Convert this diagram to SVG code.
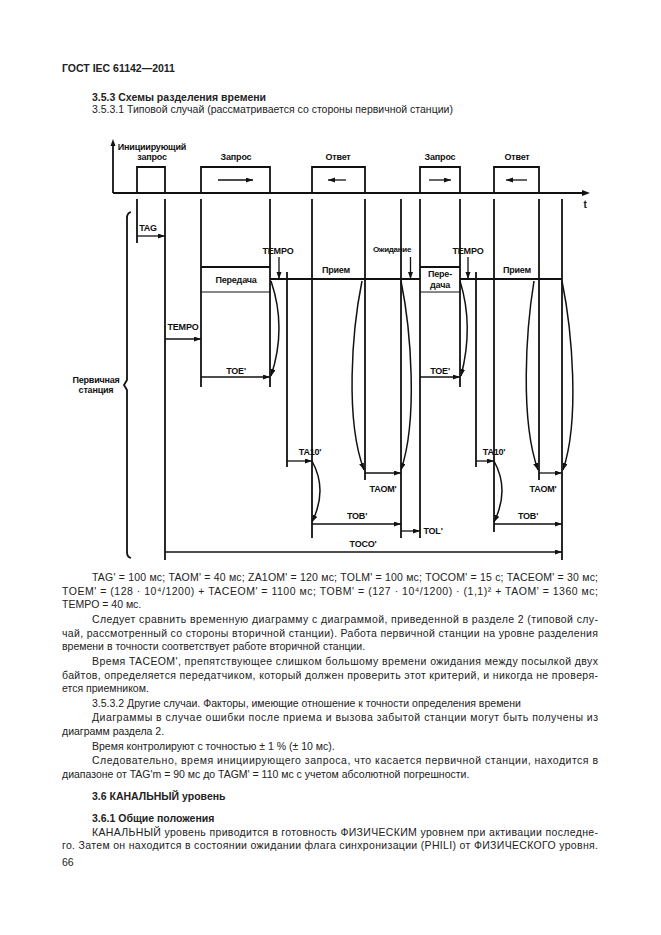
<svg xmlns="http://www.w3.org/2000/svg" width="661" height="935" viewBox="0 0 661 935">
<defs>
<marker id="ah" markerUnits="userSpaceOnUse" markerWidth="8" markerHeight="6" refX="7" refY="2.5" orient="auto"><path d="M0,0 L7,2.5 L0,5 z" fill="#111"/></marker>
<style>
.ln{stroke:#111;stroke-width:1.8;fill:none}
.th{stroke:#111;stroke-width:1;fill:none}
.ar{stroke:#111;stroke-width:1.3;fill:none;marker-end:url(#ah)}
.cv{stroke:#111;stroke-width:1.5;fill:none;marker-end:url(#ah)}
.lb{font-family:"Liberation Sans",Arial,sans-serif;font-size:9px;font-weight:bold;fill:#111;letter-spacing:-0.2px;text-anchor:middle}
.tx{font-family:"Liberation Sans",Arial,sans-serif;font-size:10.5px;fill:#222}
.bd{font-family:"Liberation Sans",Arial,sans-serif;font-size:10.5px;font-weight:bold;fill:#222}
</style>
</defs>
<rect width="661" height="935" fill="#fff"/>
<text class="bd" x="62" y="72">ГОСТ IEC 61142—2011</text>
<text class="bd" x="92" y="101">3.5.3  Схемы разделения времени</text>
<text class="tx" x="92" y="113">3.5.3.1 Типовой случай (рассматривается со стороны первичной станции)</text>

<g id="axis">
<path class="ln" d="M113,193 L113,142"/>
<path d="M110.5,146 L113,139 L115.5,146 z" fill="#111"/>
<path class="ln" d="M113,193 L583,193"/>
<path d="M582,190 L590,193 L582,196 z" fill="#111"/>
<text class="lb" x="585" y="208" style="font-size:10px">t</text>
</g>

<g id="pulses">
<path class="ln" d="M137,193 V167 H165 V193"/>
<path class="ln" d="M201,193 V167 H270 V193"/>
<path class="ln" d="M312,193 V167 H365 V193"/>
<path class="ln" d="M420,193 V167 H460 V193"/>
<path class="ln" d="M494,193 V167 H539 V193"/>
<path class="ar" d="M218,180 H253"/>
<path class="ar" d="M346,180 H328"/>
<path class="ar" d="M429,180 H451"/>
<path class="ar" d="M527,180 H506"/>
<text class="lb" x="152" y="150">Инициирующий</text>
<text class="lb" x="152" y="160">запрос</text>
<text class="lb" x="236" y="160">Запрос</text>
<text class="lb" x="338" y="160">Ответ</text>
<text class="lb" x="440" y="160">Запрос</text>
<text class="lb" x="517" y="160">Ответ</text>
</g>

<g id="station">
<path class="ln" d="M131,212 Q127,213 127,218 L127,380 L124,385 L127,390 L127,552 Q127,557 131,558"/>
<text class="lb" x="96" y="383">Первичная</text>
<text class="lb" x="96" y="393">станция</text>
</g>

<g id="verticals">
<path class="ln" d="M137,199 V243"/>
<path class="ln" d="M165,199 V560"/>
<path class="ln" d="M201,199 V387"/>
<path class="ln" d="M270,199 V387"/>
<path class="ln" d="M287,272 V467"/>
<path class="ln" d="M312,199 V538"/>
<path class="ln" d="M365,199 V480"/>
<path class="ln" d="M401,199 V538"/>
<path class="ln" d="M420,199 V538"/>
<path class="ln" d="M460,199 V387"/>
<path class="ln" d="M476,272 V467"/>
<path class="ln" d="M494,199 V532"/>
<path class="ln" d="M539,199 V480"/>
<path class="ln" d="M562,199 V560"/>
</g>

<g id="tx1">
<path class="ln" d="M201,267 H270"/>
<path class="th" d="M201,292 H270"/>
<text class="lb" x="236" y="283">Передача</text>
</g>
<g id="tx2">
<path class="ln" d="M420,267 H460"/>
<path class="th" d="M420,292 H460"/>
<text class="lb" x="440" y="277">Пере-</text>
<text class="lb" x="440" y="288">дача</text>
</g>

<g id="mainline">
<path class="ln" d="M270,279 H420 M460,279 H562"/>
<text class="lb" x="278" y="254">TEMPO</text>
<text class="lb" x="392" y="252" style="font-size:8px;letter-spacing:-0.3px">Ожидание</text>
<text class="lb" x="468" y="254">TEMPO</text>
<text class="lb" x="336" y="273">Прием</text>
<text class="lb" x="517" y="273">Прием</text>
</g>

<g id="connectors">
<path class="ar" d="M279,257 V279"/>
<path class="ar" d="M410.5,257 V279"/>
<path class="ar" d="M468,257 V279"/>
<path class="cv" d="M271,281 Q287,328 271,376"/>
<path class="cv" d="M362,281 C352,330 345,420 364,470"/>
<path class="cv" d="M401,281 C411,330 418,420 401,470"/>
<path class="cv" d="M312,461 Q328,490 312,522"/>
<path class="cv" d="M460,281 Q474,326 461,376"/>
<path class="cv" d="M534,281 C526,330 520,420 538,470"/>
<path class="cv" d="M562,281 C572,330 580,420 563,470"/>
<path class="cv" d="M494,461 Q510,490 494,522"/>
<path class="ar" d="M137,236 H165"/>
<path class="ar" d="M165,339 H201"/>
<path class="ar" d="M201,377 H270"/>
<path class="ar" d="M420,377 H460"/>
<path class="ar" d="M287,461 H312"/>
<path class="ar" d="M476,461 H494"/>
<path class="ar" d="M365,473 H401"/>
<path class="ar" d="M539,473 H562"/>
<path class="ar" d="M312,524 H401"/>
<path class="ar" d="M494,524 H562"/>
<path class="ar" d="M401,531 H420"/>
<path class="ar" d="M165,552 H562"/>
</g>

<g id="labels">
<text class="lb" x="148" y="231">TAG</text>
<text class="lb" x="183" y="330">TEMPO</text>
<text class="lb" x="236" y="374">TOE'</text>
<text class="lb" x="440" y="374">TOE'</text>
<text class="lb" x="310" y="455">TA10'</text>
<text class="lb" x="494" y="455">TA10'</text>
<text class="lb" x="383" y="492">TAOM'</text>
<text class="lb" x="543" y="492">TAOM'</text>
<text class="lb" x="357" y="519">TOB'</text>
<text class="lb" x="528" y="519">TOB'</text>
<text class="lb" x="433" y="534">TOL'</text>
<text class="lb" x="363" y="547">TOCO'</text>
</g>

<g id="body">
<text class="tx" x="92" y="581" textLength="506" lengthAdjust="spacing">TAG' = 100 мс; TAOM' = 40 мс; ZA1OM' = 120 мс; TOLM' = 100 мс; TOCOM' = 15 с; TACEOM' = 30 мс;</text>
<text class="tx" x="62" y="595" textLength="536" lengthAdjust="spacing">TOEM' = (128 · 10⁴/1200) + TACEOM' = 1100 мс; TOBM' = (127 · 10⁴/1200) · (1,1)² + TAOM' = 1360 мс;</text>
<text class="tx" x="62" y="608">TEMPO = 40 мс.</text>
<text class="tx" x="92" y="623" textLength="506" lengthAdjust="spacing">Следует сравнить временную диаграмму с диаграммой, приведенной в разделе 2 (типовой слу-</text>
<text class="tx" x="62" y="637" textLength="536" lengthAdjust="spacing">чай, рассмотренный со стороны вторичной станции). Работа первичной станции на уровне разделения</text>
<text class="tx" x="62" y="650">времени в точности соответствует работе вторичной станции.</text>
<text class="tx" x="92" y="665" textLength="506" lengthAdjust="spacing">Время TACEOM', препятствующее слишком большому времени ожидания между посылкой двух</text>
<text class="tx" x="62" y="679" textLength="536" lengthAdjust="spacing">байтов, определяется передатчиком, который должен проверить этот критерий, и никогда не проверя-</text>
<text class="tx" x="62" y="692">ется приемником.</text>
<text class="tx" x="92" y="707">3.5.3.2 Другие случаи. Факторы, имеющие отношение к точности определения времени</text>
<text class="tx" x="92" y="721" textLength="506" lengthAdjust="spacing">Диаграммы в случае ошибки после приема и вызова забытой станции могут быть получены из</text>
<text class="tx" x="62" y="735">диаграмм раздела 2.</text>
<text class="tx" x="92" y="750">Время контролируют с точностью ± 1 % (± 10 мс).</text>
<text class="tx" x="92" y="764" textLength="506" lengthAdjust="spacing">Следовательно, время инициирующего запроса, что касается первичной станции, находится в</text>
<text class="tx" x="62" y="778">диапазоне от TAG'm = 90 мс до TAGM' = 110 мс с учетом абсолютной погрешности.</text>
<text class="bd" x="92" y="800">3.6  КАНАЛЬНЫЙ уровень</text>
<text class="bd" x="92" y="822">3.6.1  Общие положения</text>
<text class="tx" x="92" y="836" textLength="506" lengthAdjust="spacing">КАНАЛЬНЫЙ уровень приводится в готовность ФИЗИЧЕСКИМ уровнем при активации последне-</text>
<text class="tx" x="62" y="849" textLength="536" lengthAdjust="spacing">го. Затем он находится в состоянии ожидании флага синхронизации (PHILI) от ФИЗИЧЕСКОГО уровня.</text>
<text class="tx" x="62" y="866">66</text>
</g>
</svg>
